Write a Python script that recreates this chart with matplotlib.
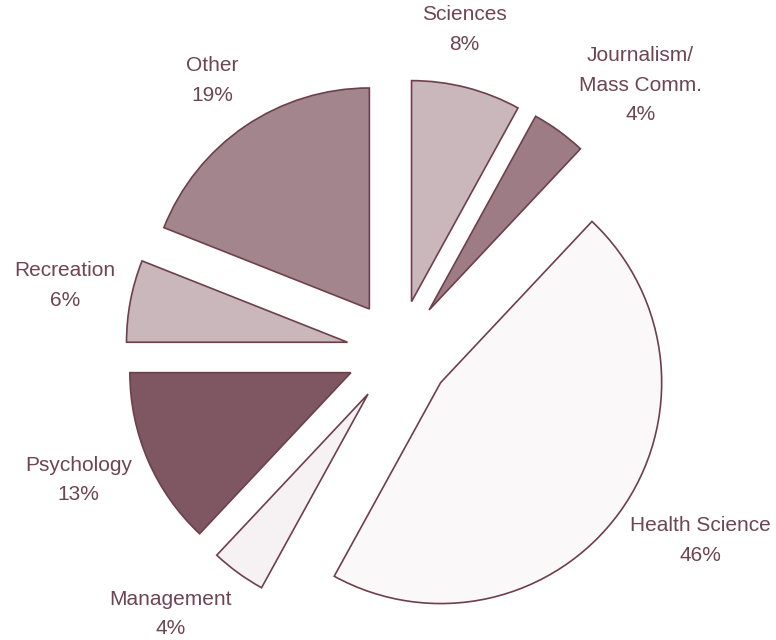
import numpy as np
import matplotlib
matplotlib.use("Agg")
import matplotlib.pyplot as plt

plt.rcParams['font.family'] = ['Liberation Sans', 'DejaVu Sans']

# Data (clockwise from the top)
majors = ['Sciences', 'Journalism/\nMass Comm.', 'Health Science', 'Management',
          'Psychology', 'Recreation', 'Other']
shares = [8, 4, 46, 4, 13, 6, 19]
colors = ['#c9b7bb', '#9e7c85', '#faf8f8', '#f6f2f3', '#7f5762', '#c9b7bb', '#a3868d']

# label placement: distance from pie centre (in radii) and angle (deg)
label_dist = [1.49, 1.63, 1.61, 1.57, 1.56, 1.54, 1.49]
label_ang = [78.5, 47.8, -32.0, -131.0, -158.2, 168.7, 124.5]

edge = '#6e3f4c'
text_col = '#6e4552'

fig = plt.figure(figsize=(7.76, 6.4), dpi=100)
ax = fig.add_axes([0, 0, 1, 1])

R = 221
cx, cy = 398.6, 288
wedges, _ = ax.pie(shares, colors=colors, startangle=90, counterclock=False,
                   radius=R, center=(cx, cy), explode=[52] * len(shares),
                   wedgeprops=dict(edgecolor=edge, linewidth=1.2))

for lab, s, d, a in zip(majors, shares, label_dist, label_ang):
    x = cx + d * R * np.cos(np.radians(a))
    y = cy + d * R * np.sin(np.radians(a))
    ax.text(x, y, f"{lab}\n{s}%", ha='center', va='center', fontsize=15,
            color=text_col, linespacing=1.7)

ax.set_xlim(0, 776)
ax.set_ylim(0, 640)
ax.set_aspect('equal')
ax.axis('off')

fig.savefig('out.png', dpi=100)
